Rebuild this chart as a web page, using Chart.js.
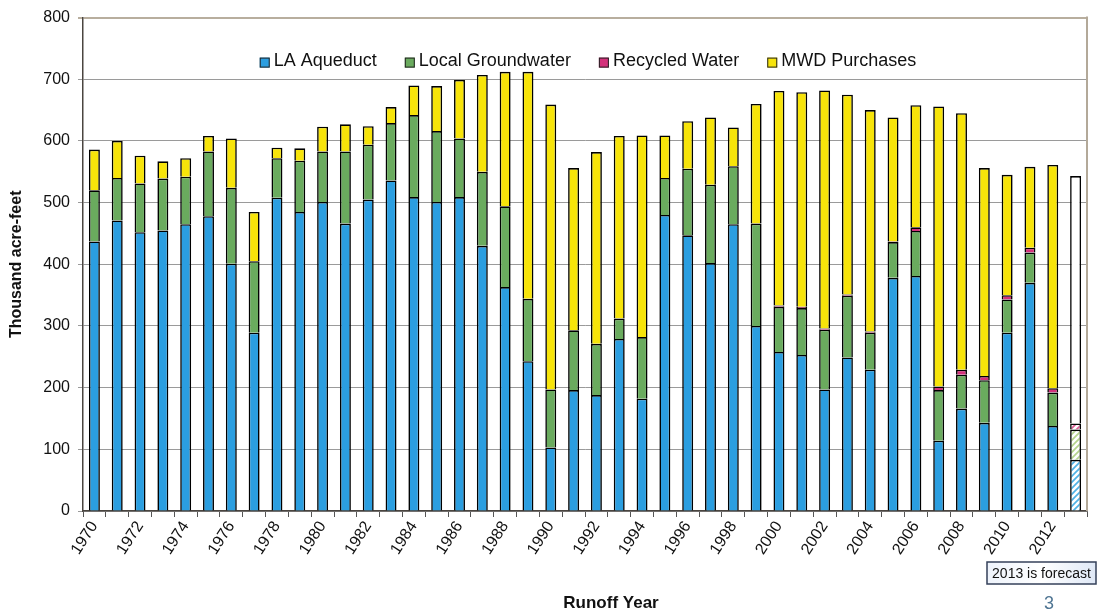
<!DOCTYPE html>
<html>
<head>
<meta charset="utf-8">
<script src="https://cdn.jsdelivr.net/npm/chart.js@4.4.0/dist/chart.umd.min.js"></script>
<style>
  html, body { margin: 0; padding: 0; background: #fff; }
  #wrap { width: 1097px; height: 612px; }
</style>
</head>
<body>
<div id="wrap"><canvas id="c" width="1097" height="612"></canvas></div>
<script>
// Runoff years (2013 is a forecast)
const years = [
  '1970','1971','1972','1973','1974','1975','1976','1977','1978','1979',
  '1980','1981','1982','1983','1984','1985','1986','1987','1988','1989',
  '1990','1991','1992','1993','1994','1995','1996','1997','1998','1999',
  '2000','2001','2002','2003','2004','2005','2006','2007','2008','2009',
  '2010','2011','2012','2013'
];
const forecastYear = '2013';

// Supply by source, thousand acre-feet
const laAqueduct = [
  437,471,452,455,465,478,401,289,508,485,
  501,466,505,536,509,501,509,430,363,243,
  103,196,188,279,182,480,447,402,465,300,
  258,253,197,249,229,378,381,114,166,143,
  289,370,138,83
];
const localGroundwater = [
  83,69,79,84,77,105,123,116,64,83,
  82,117,89,93,133,115,95,120,131,101,
  94,97,83,33,100,60,108,127,94,166,
  73,76,97,100,60,58,73,82,55,69,
  54,49,54,49
];
const recycledWater = [
  null,null,null,null,null,null,null,null,null,null,
  null,null,null,null,null,null,null,null,null,null,
  null,null,null,null,null,null,null,null,null,null,
  2,2,2,2,2,1,6,6,8,7,
  7,8,7,10
];
const mwdPurchases = [
  66,60,45,28,30,25,80,80,17,20,
  40,44,30,26,48,73,95,157,218,368,
  462,263,311,296,327,69,77,109,63,194,
  348,348,386,324,359,201,198,454,416,337,
  195,131,362,401
];

// Axis range
const yMin = 0, yMax = 800, yStep = 100;

const FONT = '"Liberation Sans", Arial, sans-serif';
const fIdx = years.indexOf(forecastYear);

// Diagonal hatch fill for the forecast year
function hatch(color) {
  const s = 6;
  const t = document.createElement('canvas');
  t.width = s; t.height = s;
  const g = t.getContext('2d');
  g.fillStyle = '#ffffff';
  g.fillRect(0, 0, s, s);
  g.strokeStyle = color;
  g.lineWidth = 1.7;
  g.beginPath();
  g.moveTo(0, s); g.lineTo(s, 0);
  g.moveTo(-s / 2, s / 2); g.lineTo(s / 2, -s / 2);
  g.moveTo(s / 2, s * 1.5); g.lineTo(s * 1.5, s / 2);
  g.stroke();
  return document.createElement('canvas').getContext('2d').createPattern(t, 'repeat');
}

function fills(solid, forecastFill) {
  return years.map((y, i) => (i === fIdx ? forecastFill : solid));
}

const series = [
  { label: 'LA Aqueduct', data: laAqueduct, color: '#2b9ee0', fc: hatch('#4fb3e6') },
  { label: 'Local Groundwater', data: localGroundwater, color: '#6aab5e', fc: hatch('#b5d48c') },
  { label: 'Recycled Water', data: recycledWater, color: '#d4317b', fc: hatch('#dd5b95') },
  { label: 'MWD Purchases', data: mwdPurchases, color: '#f7e40a', fc: '#ffffff' }
];

const datasets = series.map(s => ({
  label: s.label,
  data: s.data,
  legendColor: s.color,
  backgroundColor: fills(s.color, s.fc),
  borderColor: '#000000',
  borderWidth: 1.6,
  barPercentage: 0.48,
  categoryPercentage: 1.0
}));

// Frame, in-plot legend, axis caption and notes
const decorations = {
  id: 'decorations',
  afterDraw(chart) {
    const { ctx, chartArea: a } = chart;
    ctx.save();

    // right frame edge
    ctx.strokeStyle = '#b3a999';
    ctx.lineWidth = 2;
    ctx.beginPath();
    ctx.moveTo(a.right, a.top - 1);
    ctx.lineTo(a.right, a.bottom);
    ctx.stroke();

    // legend row inside the plot
    ctx.font = '18px ' + FONT;
    ctx.textBaseline = 'middle';
    ctx.textAlign = 'left';
    const box = 10, gapBox = 4, gapItem = 28;
    const items = chart.data.datasets.map(d => ({ text: d.label, color: d.legendColor, w: ctx.measureText(d.label).width }));
    const total = items.reduce((s, it) => s + box + gapBox + it.w, 0) + gapItem * (items.length - 1);
    let x = (a.left + a.right) / 2 + 3 - total / 2;
    const yc = a.top + 42;
    items.forEach(it => {
      ctx.fillStyle = it.color;
      ctx.fillRect(x, yc - 2, box, box);
      ctx.strokeStyle = '#222';
      ctx.lineWidth = 1;
      ctx.strokeRect(x + 0.5, yc - 1.5, box - 1, box - 1);
      ctx.fillStyle = '#111';
      ctx.fillText(it.text, x + box + gapBox, yc + 1);
      x += box + gapBox + it.w + gapItem;
    });

    // x-axis caption
    ctx.font = 'bold 17px ' + FONT;
    ctx.textAlign = 'center';
    ctx.fillStyle = '#111';
    ctx.fillText('Runoff Year', (a.left + a.right) / 2 + 26, 603);

    // forecast note
    const bx = 987, by = 562, bw = 109, bh = 22;
    const grad = ctx.createLinearGradient(bx, 0, bx + bw, 0);
    grad.addColorStop(0, '#eef3fb');
    grad.addColorStop(0.5, '#ffffff');
    grad.addColorStop(1, '#dfe8f6');
    ctx.fillStyle = grad;
    ctx.fillRect(bx, by, bw, bh);
    ctx.strokeStyle = '#34405a';
    ctx.lineWidth = 1.5;
    ctx.strokeRect(bx, by, bw, bh);
    ctx.font = '14px ' + FONT;
    ctx.fillStyle = '#111';
    ctx.fillText('2013 is forecast', bx + bw / 2, by + bh / 2 + 1);

    // page number
    ctx.font = '18px ' + FONT;
    ctx.fillStyle = '#4f7593';
    ctx.fillText('3', 1049, 604);

    ctx.restore();
  }
};

new Chart(document.getElementById('c'), {
  type: 'bar',
  data: { labels: years, datasets },
  plugins: [decorations],
  options: {
    responsive: false,
    animation: false,
    devicePixelRatio: 1,
    layout: { padding: { left: 0, right: 10, top: 15, bottom: 0 } },
    plugins: { legend: { display: false }, tooltip: { enabled: false } },
    scales: {
      x: {
        stacked: true,
        offset: true,
        grid: { offset: true, drawOnChartArea: false, drawTicks: true, tickLength: 6, color: '#555', lineWidth: 1 },
        border: { display: true, color: '#4a4540', width: 1.5 },
        ticks: {
          autoSkip: false,
          maxRotation: 57,
          minRotation: 57,
          padding: 1,
          color: '#111',
          font: { size: 16, family: FONT },
          callback: (v, i) => (i % 2 === 0 ? years[i] : '')
        },
        afterFit: s => { s.height = 101; }
      },
      y: {
        stacked: true,
        min: yMin,
        max: yMax,
        ticks: { stepSize: yStep, padding: 8, color: '#111', font: { size: 16, family: FONT } },
        grid: {
          color: c => (c.tick && c.tick.value === yMax ? '#b8ae9e' : '#9a9a9a'),
          lineWidth: c => (c.tick && c.tick.value === yMax ? 2 : 1),
          tickLength: 5,
          drawTicks: true
        },
        border: { display: true, color: '#4a4540', width: 1.5 },
        title: {
          display: true,
          text: 'Thousand acre-feet',
          color: '#111',
          font: { size: 16, weight: 'bold', family: FONT },
          padding: { top: 7, bottom: 0 }
        },
        afterFit: s => { s.width = 83; }
      }
    }
  }
});
</script>
</body>
</html>
